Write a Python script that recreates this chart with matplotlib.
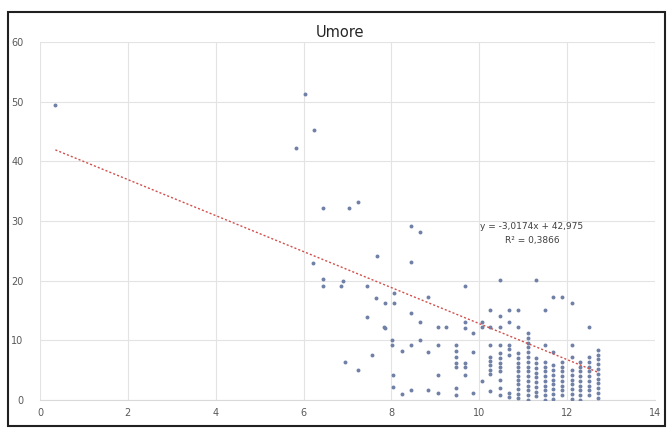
import numpy as np
import matplotlib.pyplot as plt
from matplotlib.patches import Rectangle

#==============================================================================
# Dati
#==============================================================================

titolo = "Umore"
eq_testo = "y = -3,0174x + 42,975"
r2_testo = "R² = 0,3866"
pendenza = -3.0174
intercetta = 42.975

# punti sparsi
x_sparsi = [0.35, 5.83, 6.04, 6.24, 6.45, 7.04, 7.24, 8.45, 8.66, 6.22, 7.68, 8.45,
            6.45, 6.45, 6.86, 6.90, 7.45, 7.65, 7.45, 7.86, 7.86, 8.06, 8.06, 8.45,
            8.64, 6.95, 7.24, 7.56, 8.04, 8.02, 8.02, 8.25, 8.45, 8.64, 7.84, 8.04,
            8.25, 8.45]
y_sparsi = [49.5, 42.2, 51.3, 45.2, 32.2, 32.2, 33.2, 29.1, 28.1, 23.0, 24.1, 23.1,
            20.3, 19.1, 19.1, 20.0, 19.1, 17.1, 13.9, 12.0, 16.2, 16.2, 17.9, 14.5,
            13.1, 6.4, 5.0, 7.5, 2.2, 10.0, 9.2, 8.2, 9.2, 10.0, 12.2, 4.2,
            1.0, 1.7]

# colonne dense (x, valori di y)
col_x = [8.84, 9.05, 9.25, 9.48, 9.68, 9.85, 10.07, 10.25, 10.48, 10.68, 10.89,
         11.10, 11.30, 11.50, 11.68, 11.89, 12.10, 12.30, 12.50, 12.70]
col_y = [
    [17.2, 8.0, 1.7],
    [12.2, 9.2, 4.2, 1.2],
    [12.2],
    [9.2, 8.2, 7.2, 6.2, 5.5, 2.0, 0.8],
    [19.1, 13.1, 12.0, 6.2, 5.5, 4.2],
    [11.2, 8.0, 1.2],
    [13.1, 12.2, 3.2],
    [15.1, 12.2, 9.2, 7.2, 6.5, 5.8, 5.0, 4.3, 1.5],
    [20.1, 14.0, 12.2, 9.2, 7.8, 7.0, 6.2, 5.5, 4.8, 3.4, 2.0, 0.8],
    [15.1, 13.1, 9.2, 8.5, 7.5, 1.2, 0.5],
    [15.1, 12.2, 7.8, 7.0, 6.2, 5.5, 4.8, 4.1, 3.4, 2.6, 1.8, 1.0, 0.3],
    [11.2, 10.4, 9.6, 8.8, 8.0, 7.2, 6.4, 5.6, 4.8, 4.0, 3.2, 2.4, 1.6, 0.8, 0.0],
    [20.1, 7.0, 6.2, 5.4, 4.6, 3.8, 3.0, 2.2, 1.4, 0.6],
    [15.1, 9.2, 6.4, 5.6, 4.8, 4.0, 3.2, 2.4, 1.6, 0.8, 0.0],
    [17.2, 8.0, 5.8, 5.0, 4.2, 3.4, 2.6, 1.8, 1.0, 0.2],
    [17.2, 6.4, 5.6, 4.8, 4.0, 3.2, 2.4, 1.6, 0.8],
    [16.2, 9.2, 7.2, 5.0, 4.2, 3.4, 2.6, 1.8, 1.0, 0.2],
    [6.4, 5.6, 4.8, 4.0, 3.2, 2.4, 1.6, 0.8, 0.0],
    [12.2, 7.2, 6.4, 5.6, 4.8, 4.0, 3.2, 2.4, 1.6, 0.8],
    [8.4, 7.6, 6.8, 6.0, 5.2, 4.4, 3.6, 2.8, 2.0, 1.2, 0.4],
]

x_ticks = [0, 2, 4, 6, 8, 10, 12, 14]
y_ticks = [0, 10, 20, 30, 40, 50, 60]

#==============================================================================
# Grafico
#==============================================================================

x = list(x_sparsi)
y = list(y_sparsi)
for cx, ys in zip(col_x, col_y):
    x += [cx] * len(ys)
    y += ys
x = np.array(x)
y = np.array(y)

fig = plt.figure(figsize=(6.67, 4.28), dpi=100)
ax = fig.add_axes([40/667., 28/428., 615/667., 358/428.])

ax.scatter(x, y, s=8, color="#7080a6", marker="o", linewidths=0, zorder=3)

xt = np.array([x.min(), x.max()])
ax.plot(xt, pendenza*xt + intercetta, color="#d0504d", lw=1.0,
        linestyle=(0, (1.5, 1.5)), zorder=4)

ax.set_xlim(0, 14)
ax.set_ylim(0, 60)
ax.set_xticks(x_ticks)
ax.set_yticks(y_ticks)
ax.grid(True, color="#e3e3e3", lw=0.8)
ax.set_axisbelow(True)
for s in ["top", "right", "left"]:
    ax.spines[s].set_visible(False)
ax.spines["bottom"].set_color("#d9d9d9")
ax.tick_params(axis="x", length=0, labelsize=7, colors="#595959", pad=6)
ax.tick_params(axis="y", length=0, labelsize=7, colors="#595959", pad=12)

fig.text(0.51, 0.925, titolo, ha="center", va="center", fontsize=10.5,
         color="#262626")
ax.text(11.2, 29.0, eq_testo, ha="center", va="center", fontsize=6.5,
        color="#404040")
ax.text(11.2, 26.8, r2_testo, ha="center", va="center", fontsize=6.5,
        color="#404040")

# cornice del grafico
fig.patches.append(Rectangle((8/667., 2/428.), 657/667., 414/428.,
                             transform=fig.transFigure, fill=False,
                             edgecolor="#202020", lw=1.5))

plt.savefig("out.png", dpi=100)
